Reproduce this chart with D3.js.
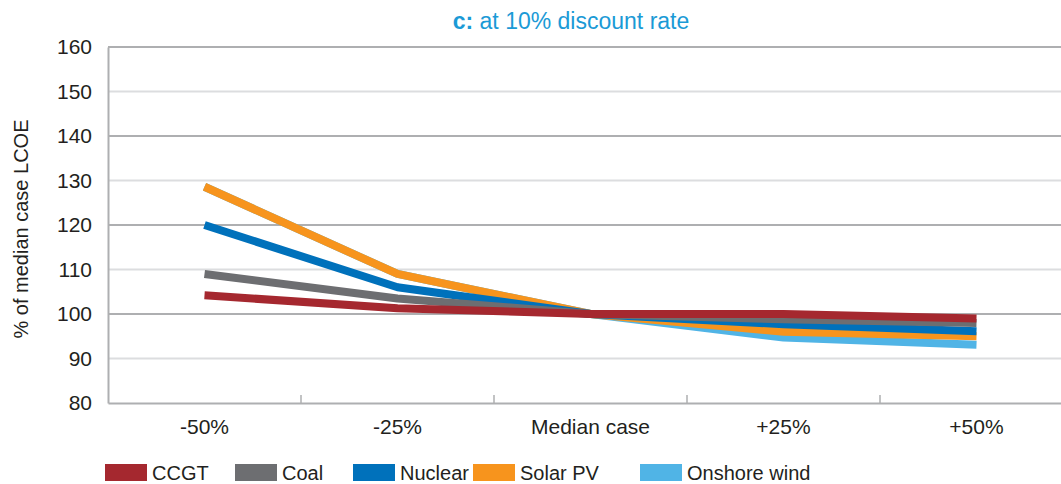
<!DOCTYPE html>
<html>
<head>
<meta charset="utf-8">
<script src="https://cdn.jsdelivr.net/npm/d3@7"></script>
<style>
  html, body { margin: 0; padding: 0; background: #fff; }
  svg { display: block; font-family: "Liberation Sans", Arial, sans-serif; }
</style>
</head>
<body>
<svg id="chart" width="1061" height="484"></svg>
<script>
// ---- data ----
const categories = ["-50%", "-25%", "Median case", "+25%", "+50%"];
const seriesNames = ["CCGT", "Coal", "Nuclear", "Solar PV", "Onshore wind"];
const ccgt        = [104.2, 101.3, 100, 100.0, 99.0];
const coal        = [109.0, 103.5, 100, 98.8, 98.0];
const nuclear     = [120.0, 106.0, 100, 97.7, 96.1];
const solarPV     = [128.6, 109.0, 100, 96.0, 95.0];
const onshoreWind = [128.6, 109.0, 100, 94.7, 93.1];
const yTicks = [80, 90, 100, 110, 120, 130, 140, 150, 160];
const colors = ["#a5282f", "#6d6e71", "#0071bb", "#f7941d", "#50b4e6"];

const seriesValues = [ccgt, coal, nuclear, solarPV, onshoreWind];

// ---- layout ----
const svg = d3.select("#chart");
const mLeft = 108, mRight = 1073, mTop = 47, mBottom = 403;

const x = d3.scaleBand().domain(categories).range([mLeft, mRight]).padding(0);
const y = d3.scaleLinear().domain([80, 160]).range([mBottom, mTop]);

// gridlines
svg.append("g").selectAll("line")
  .data(yTicks.filter(d => d !== 80))
  .join("line")
  .attr("x1", mLeft).attr("x2", mRight)
  .attr("y1", d => y(d)).attr("y2", d => y(d))
  .attr("stroke", d => (d % 20 === 0) ? "#aeafb1" : "#dcdddf")
  .attr("stroke-width", 2);

// y axis
const yAxis = svg.append("g")
  .attr("transform", `translate(${mLeft},0)`)
  .call(d3.axisLeft(y).tickValues(yTicks).tickSize(0).tickPadding(16));
yAxis.select(".domain").attr("stroke", "#aeafb1").attr("stroke-width", 2);
yAxis.selectAll("text")
  .attr("font-size", 21).attr("fill", "#231f20")
  .attr("font-family", "Liberation Sans, Arial, sans-serif");

// x axis
const xAxis = svg.append("g")
  .attr("transform", `translate(0,${mBottom})`)
  .call(d3.axisBottom(x).tickSize(0).tickPadding(16));
xAxis.select(".domain").attr("stroke", "#aeafb1").attr("stroke-width", 2);
xAxis.selectAll("text")
  .attr("font-size", 21).attr("fill", "#231f20")
  .attr("font-family", "Liberation Sans, Arial, sans-serif");

// x band boundary ticks (pointing up)
svg.append("g").selectAll("line")
  .data(categories.slice(1))
  .join("line")
  .attr("x1", d => x(d)).attr("x2", d => x(d))
  .attr("y1", mBottom).attr("y2", mBottom - 8)
  .attr("stroke", "#aeafb1").attr("stroke-width", 1.5);

// lines (drawn in reverse so CCGT on top)
const line = d3.line()
  .x((d, i) => x(categories[i]) + x.bandwidth() / 2)
  .y(d => y(d));

const order = d3.range(seriesNames.length).reverse();
svg.append("g").selectAll("path")
  .data(order)
  .join("path")
  .attr("d", i => line(seriesValues[i]))
  .attr("fill", "none")
  .attr("stroke", i => colors[i])
  .attr("stroke-width", 8)
  .attr("stroke-linejoin", "bevel")
  .attr("stroke-linecap", "butt");

// y title
svg.append("text")
  .attr("transform", `translate(28,${(mTop + mBottom) / 2 + 4}) rotate(-90)`)
  .attr("text-anchor", "middle")
  .attr("font-size", 20)
  .attr("fill", "#231f20")
  .text("% of median case LCOE");

// chart title
const title = svg.append("text")
  .attr("x", 571).attr("y", 29)
  .attr("text-anchor", "middle")
  .attr("font-size", 23)
  .attr("fill", "#1b9ad6");
title.append("tspan").attr("font-weight", "bold").text("c:");
title.append("tspan").text(" at 10% discount rate");

// legend
const legendX = [105, 235, 353, 473, 640];
const lg = svg.append("g").selectAll("g")
  .data(seriesNames)
  .join("g")
  .attr("transform", (d, i) => `translate(${legendX[i]},464)`);
lg.append("rect")
  .attr("width", 42).attr("height", 17)
  .attr("fill", (d, i) => colors[i]);
lg.append("text")
  .attr("x", 47).attr("y", 16)
  .attr("font-size", 20)
  .attr("fill", "#231f20")
  .text(d => d);
</script>
</body>
</html>
